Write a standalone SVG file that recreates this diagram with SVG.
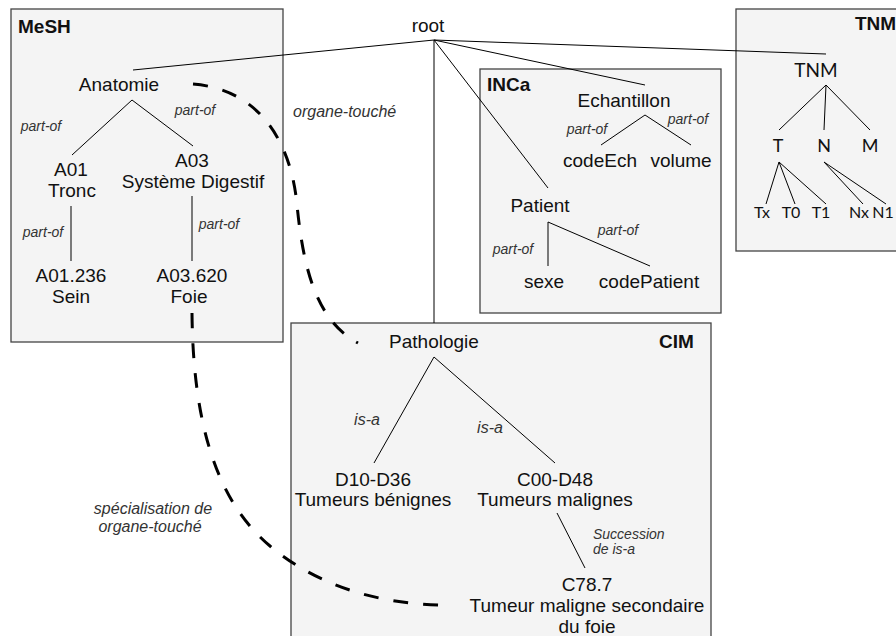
<svg xmlns="http://www.w3.org/2000/svg" width="896" height="636" viewBox="0 0 896 636">
<style>
.box{fill:#f4f4f4;stroke:#444;stroke-width:1.3}
.t{font-family:"Liberation Sans",Arial,sans-serif;font-size:19px;fill:#111;text-anchor:middle}
.title{font-family:"Liberation Sans",Arial,sans-serif;font-size:19px;font-weight:bold;fill:#111}
.tnm{font-family:Lato,"Liberation Sans",sans-serif;fill:#111;text-anchor:middle}
.lbl{font-family:"Liberation Sans",Arial,sans-serif;font-style:italic;font-size:14px;fill:#333;text-anchor:middle}
.lbl16{font-size:16px}
.edge{stroke:#000;stroke-width:1;fill:none}
.dash{stroke:#000;stroke-width:3;stroke-dasharray:15 15;fill:none}
</style>
<rect width="896" height="636" fill="#fff"/>
<g id="MeSH">
<rect class="box" x="11" y="9" width="272" height="333"/>
<text class="title" x="18" y="33">MeSH</text>
</g>
<g id="INCa">
<rect class="box" x="480" y="69" width="241" height="244"/>
<text class="title" x="487" y="91">INCa</text>
</g>
<g id="TNMbox">
<rect class="box" x="736" y="9" width="175" height="242"/>
<text class="title" x="855" y="30" font-size="18.5">TNM</text>
</g>
<g id="CIM">
<rect class="box" x="291" y="323" width="420" height="320"/>
<text class="title" x="659" y="348">CIM</text>
</g>
<g id="connectors">
<path class="edge" d="M434,40L133,70M434,40L434,323M434,40L548,188M434,40L645,85M434,40L826,54"/>
<path class="edge" d="M132,100L72,155M132,100L193,146M71,206L71,261M192,196L192,261"/>
<path class="edge" d="M645,115L601,145M645,115L691,145M548,222L548,266M548,222L650,266"/>
<path class="edge" d="M826,85L779,130M826,85L824,130M826,85L870,130M779,162L766,204M779,162L795,204M779,162L826,204M824,162L863,204M824,162L886,204"/>
<path class="edge" d="M434,357L374,463M434,357L555,463M557,513L585,568"/>
<path class="dash" d="M193,84C265,90 292,150 297,205C303,265 315,320 358,343"/>
<path class="dash" d="M192,313C193,420 215,500 270,546C310,580 370,605 447,605"/>
</g>
<g id="labels">
<text class="lbl" x="41" y="131">part-of</text>
<text class="lbl" x="195" y="115">part-of</text>
<text class="lbl" x="43" y="237">part-of</text>
<text class="lbl" x="219" y="229">part-of</text>
<text class="lbl lbl16" x="293" y="117" style="text-anchor:start">organe-touché</text>
<text class="lbl" x="587" y="134">part-of</text>
<text class="lbl" x="688" y="124">part-of</text>
<text class="lbl" x="513" y="254">part-of</text>
<text class="lbl" x="618" y="235">part-of</text>
<text class="lbl lbl16" x="367" y="425">is-a</text>
<text class="lbl lbl16" x="490" y="433">is-a</text>
<text class="lbl" x="593" y="539" style="text-anchor:start">Succession</text>
<text class="lbl" x="593" y="554" style="text-anchor:start">de is-a</text>
<text class="lbl lbl16" x="153" y="514">spécialisation de</text>
<text class="lbl lbl16" x="150" y="532">organe-touché</text>
</g>
<g id="root"><text class="t" x="428" y="32">root</text></g>
<g id="Anatomie"><text class="t" x="119" y="91">Anatomie</text></g>
<g id="A01"><text class="t" x="71" y="176">A01</text><text class="t" x="72" y="197">Tronc</text></g>
<g id="A03"><text class="t" x="192" y="167">A03</text><text class="t" x="193" y="188">Système Digestif</text></g>
<g id="A01.236"><text class="t" x="71" y="282">A01.236</text><text class="t" x="71" y="303">Sein</text></g>
<g id="A03.620"><text class="t" x="192" y="282">A03.620</text><text class="t" x="189" y="303">Foie</text></g>
<g id="Echantillon"><text class="t" x="624" y="107">Echantillon</text></g>
<g id="codeEch"><text class="t" x="600" y="167">codeEch</text></g>
<g id="volume"><text class="t" x="681" y="167">volume</text></g>
<g id="Patient"><text class="t" x="540" y="212">Patient</text></g>
<g id="sexe"><text class="t" x="544" y="288">sexe</text></g>
<g id="codePatient"><text class="t" x="649" y="288">codePatient</text></g>
<g id="TNM"><text class="tnm" x="816" y="77" font-size="19">TNM</text></g>
<g id="T"><text class="tnm" x="778" y="152" font-size="18">T</text></g>
<g id="N"><text class="tnm" x="824" y="152" font-size="18">N</text></g>
<g id="M"><text class="tnm" x="870" y="152" font-size="18">M</text></g>
<g id="Tx"><text class="tnm" x="762" y="218" font-size="16">Tx</text></g>
<g id="T0"><text class="tnm" x="791" y="218" font-size="16">T0</text></g>
<g id="T1"><text class="tnm" x="821" y="218" font-size="16">T1</text></g>
<g id="Nx"><text class="tnm" x="859" y="218" font-size="16">Nx</text></g>
<g id="N1"><text class="tnm" x="883" y="218" font-size="16">N1</text></g>
<g id="Pathologie"><text class="t" x="434" y="348">Pathologie</text></g>
<g id="D10-D36"><text class="t" x="373" y="486">D10-D36</text><text class="t" x="373" y="506">Tumeurs bénignes</text></g>
<g id="C00-D48"><text class="t" x="555" y="486">C00-D48</text><text class="t" x="555" y="506">Tumeurs malignes</text></g>
<g id="C78.7"><text class="t" x="587" y="591">C78.7</text><text class="t" x="587" y="612">Tumeur maligne secondaire</text><text class="t" x="587" y="633">du foie</text></g>
</svg>
